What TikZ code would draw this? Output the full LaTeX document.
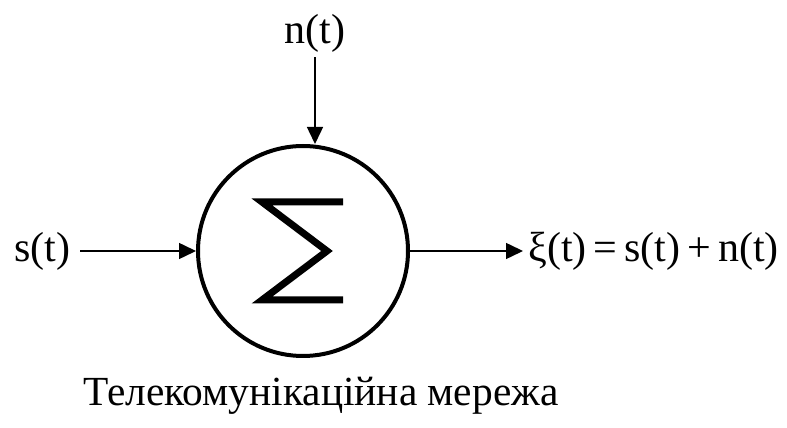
\documentclass[tikz,border=0pt]{standalone}
\usepackage{fontspec}
\setmainfont{Liberation Serif}
\usepackage{tikz}
\usetikzlibrary{arrows.meta,positioning,calc}

\tikzset{
  sig/.style={font=\fontsize{21}{25}\selectfont,inner sep=2.5pt},
  flow/.style={line width=0.75pt,-{Triangle[length=8.5pt,width=8pt]}}
}

\begin{document}
\begin{tikzpicture}[x=0.5pt,y=0.5pt]
\useasboundingbox (0,0) rectangle (787,428);
\node[circle,draw,line width=2pt,minimum size=105pt,inner sep=0pt] (sum) at (303,177) {};
% sigma inside the adder
\draw[line width=3.5pt,miter limit=10] ($(sum.center)+(40,49)$) -- ++(-81,0) -- ($(sum.center)+(24,0)$)
  -- ($(sum.center)+(-41,-49)$) -- ++(81,0);
\node[sig] (st) at (42,177) {s(t)};
\node[sig] (nt) at (315,395) {n(t)};
\node[sig,anchor=west] (xt) at (523,177) {ξ(t)\,=\,s(t)\,+\,n(t)};
\draw[flow] ([xshift=2.5pt]st.east) -- (sum);
\draw[flow] (nt) -- (nt |- sum.north);
\draw[flow] (sum) -- (xt);
\node[font=\fontsize{20.7}{24}\selectfont] (net) at (321,32) {Телекомунікаційна мережа};
\end{tikzpicture}
\end{document}
